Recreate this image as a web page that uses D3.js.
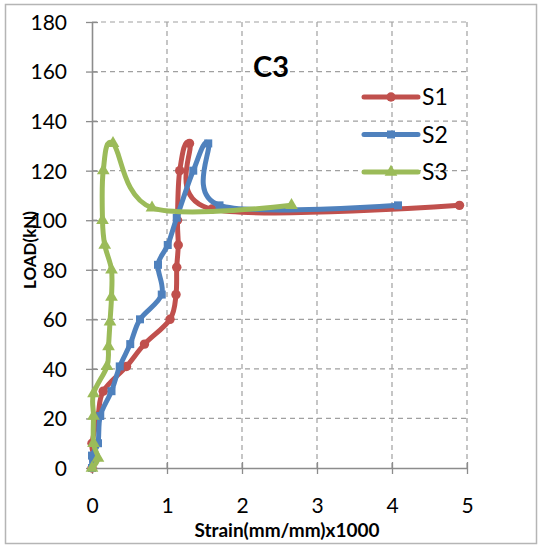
<!DOCTYPE html>
<html>
<head>
<meta charset="utf-8">
<script src="https://cdn.jsdelivr.net/npm/d3@7"></script>
<style>
  html, body { margin: 0; padding: 0; background: #fff; }
  svg { display: block; font-family: Lato, "Open Sans", sans-serif; }
</style>
</head>
<body>
<svg id="chart" width="542" height="547"></svg>
<script>
// Load vs. strain readings for column C3, gauges S1–S3
const s1Strain = [0, 0.02, 0.0, 0.08, 0.15, 0.46, 0.7, 1.04, 1.12, 1.13, 1.15, 1.14, 1.17, 1.3, 1.6, 4.9];
const s1Load   = [0, 5, 10, 21, 31, 41, 50, 60, 70, 81, 90, 100, 120, 131, 104.5, 106];

const s2Strain = [0, 0, 0.08, 0.11, 0.26, 0.37, 0.51, 0.64, 0.93, 0.88, 1.01, 1.13, 1.35, 1.55, 1.7, 4.08];
const s2Load   = [0, 5, 10, 21, 31, 41, 50, 60, 70, 82, 90, 101, 120, 131, 106, 106];

const s3Strain = [0, 0.08, 0.02, 0.02, 0.02, 0.2, 0.22, 0.24, 0.26, 0.26, 0.17, 0.14, 0.15, 0.28, 0.8, 2.66];
const s3Load   = [0, 4, 10, 21, 30, 41, 49, 59, 69, 80, 90, 100, 120, 131, 105, 106];

const seriesNames  = ["S1", "S2", "S3"];
const seriesColors = ["#C0504D", "#4F81BD", "#9BBB59"];
const markerKinds  = ["circle", "square", "triangle"];

const xTicks = [0, 1, 2, 3, 4, 5];
const yTicks = [0, 20, 40, 60, 80, 100, 120, 140, 160, 180];

const chartTitle = "C3";
const xTitle = "Strain(mm/mm)x1000";
const yTitle = "LOAD(kN)";

const seriesList = [
  { strain: s1Strain, load: s1Load },
  { strain: s2Strain, load: s2Load },
  { strain: s3Strain, load: s3Load }
].map((s, i) => ({
  name: seriesNames[i],
  color: seriesColors[i],
  marker: markerKinds[i],
  points: s.strain.map((x, j) => ({ x, y: s.load[j] }))
}));

const svg = d3.select("#chart");

// outer frame
svg.append("rect")
  .attr("x", 5.5).attr("y", 4.5)
  .attr("width", 531).attr("height", 539)
  .attr("fill", "#fff").attr("stroke", "#b5b5b5").attr("stroke-width", 1.5);

const x = d3.scaleLinear().domain([0, 5]).range([92, 467]);
const y = d3.scaleLinear().domain([0, 180]).range([468, 22]);

// dashed gridlines
const grid = svg.append("g");
grid.selectAll("line.h").data(yTicks.filter(d => d > 0)).join("line")
  .attr("x1", x(0)).attr("x2", x(5))
  .attr("y1", d => y(d)).attr("y2", d => y(d))
  .attr("stroke", "#a0a0a0").attr("stroke-width", 1.2).attr("stroke-dasharray", "5,4");
grid.selectAll("line.v").data(xTicks.filter(d => d > 0)).join("line")
  .attr("y1", y(0)).attr("y2", y(180))
  .attr("x1", d => x(d)).attr("x2", d => x(d))
  .attr("stroke", "#a0a0a0").attr("stroke-width", 1.2).attr("stroke-dasharray", "5,4");

// axes with cross tick marks
const axisColor = "#8c8c8c";
const xAxis = svg.append("g").attr("transform", `translate(0,${y(0)})`)
  .call(d3.axisBottom(x).tickValues(xTicks).tickFormat(d3.format("d"))
    .tickSize(6).tickSizeOuter(0).tickPadding(24));
const yAxis = svg.append("g").attr("transform", `translate(${x(0)},0)`)
  .call(d3.axisLeft(y).tickValues(yTicks).tickFormat(d3.format("d"))
    .tickSize(6).tickSizeOuter(0).tickPadding(19));

[xAxis, yAxis].forEach(g => {
  g.select(".domain").attr("stroke", axisColor).attr("stroke-width", 1.6);
  g.selectAll(".tick line").attr("stroke", axisColor).attr("stroke-width", 1.3);
  g.selectAll(".tick text").attr("fill", "#000").attr("font-size", 21)
    .attr("font-family", "Lato, 'Open Sans', sans-serif");
});
xAxis.selectAll(".tick line").attr("y1", -6);
yAxis.selectAll(".tick line").attr("x1", 6).attr("x2", -6);
yAxis.selectAll(".tick text").attr("dy", "0.35em");

// series lines, smoothed
const line = d3.line()
  .x(d => x(d.x)).y(d => y(d.y))
  .curve(d3.curveCardinal.tension(0));

const symbolFor = kind => kind === "circle"
  ? d3.symbol().type(d3.symbolCircle).size(70)
  : kind === "square"
    ? d3.symbol().type(d3.symbolSquare).size(64)
    : d3.symbol().type(d3.symbolTriangle).size(70);

seriesList.forEach(s => {
  const g = svg.append("g");
  g.append("path").datum(s.points)
    .attr("d", line)
    .attr("fill", "none").attr("stroke", s.color)
    .attr("stroke-width", 5).attr("stroke-linejoin", "round").attr("stroke-linecap", "round");
  g.selectAll("path.mk").data(s.points).join("path")
    .attr("class", "mk")
    .attr("transform", d => `translate(${x(d.x)},${y(d.y)})`)
    .attr("d", symbolFor(s.marker)())
    .attr("fill", s.color);
});

// title
svg.append("text")
  .attr("x", 271).attr("y", 77)
  .attr("text-anchor", "middle")
  .attr("font-size", 29).attr("font-weight", "bold")
  .text(chartTitle);

// legend
const legend = svg.append("g");
seriesList.forEach((s, i) => {
  const ly = 97 + i * 37.5;
  legend.append("line")
    .attr("x1", 364).attr("x2", 418).attr("y1", ly).attr("y2", ly)
    .attr("stroke", s.color).attr("stroke-width", 5).attr("stroke-linecap", "round");
  legend.append("path")
    .attr("transform", `translate(391,${ly})`)
    .attr("d", symbolFor(s.marker)())
    .attr("fill", s.color);
  legend.append("text")
    .attr("x", 422).attr("y", ly).attr("dy", "0.36em")
    .attr("font-size", 23)
    .text(s.name);
});

// axis titles
svg.append("text")
  .attr("x", 287).attr("y", 537)
  .attr("text-anchor", "middle")
  .attr("font-size", 19).attr("font-weight", "bold")
  .text(xTitle);
svg.append("text")
  .attr("transform", "translate(36,250) rotate(-90)")
  .attr("text-anchor", "middle")
  .attr("font-size", 17).attr("font-weight", "bold")
  .text(yTitle);
</script>
</body>
</html>
